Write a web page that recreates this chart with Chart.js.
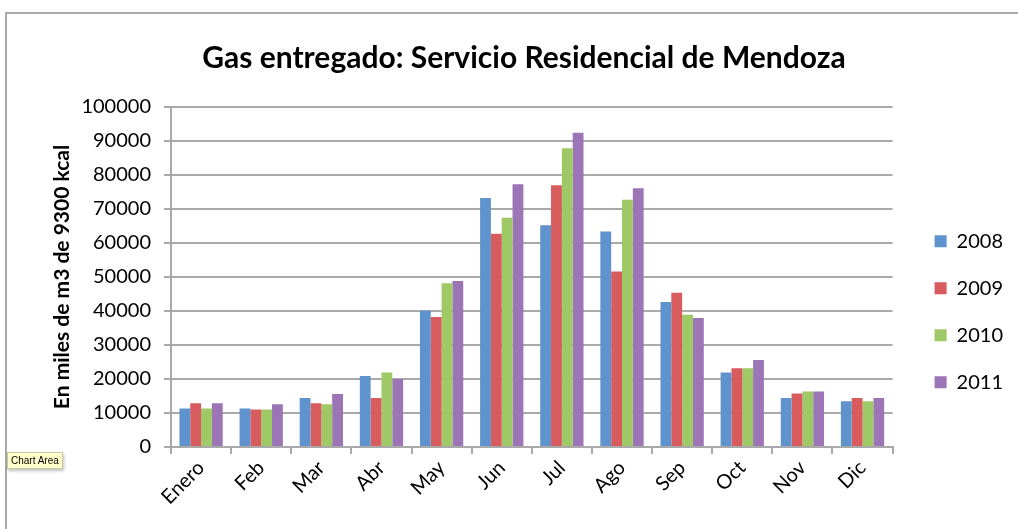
<!DOCTYPE html>
<html>
<head>
<meta charset="utf-8">
<script src="https://cdn.jsdelivr.net/npm/chart.js@4/dist/chart.umd.min.js"></script>
<style>
    html, body { margin: 0; padding: 0; background: #fff; }
    #wrap { position: relative; width: 1018px; height: 529px; overflow: hidden; }
    #frame { position: absolute; left: 5px; top: 12px; right: -2px; bottom: -2px; border-top: 2px solid #a9a9a9; border-left: 2px solid #a9a9a9; }
    #tip { position: absolute; left: 7px; top: 452px; padding: 2px 3px; background: #ffffcc; border: 1px solid #c8c8a0; box-shadow: 1px 2px 3px rgba(0,0,0,0.25); font: 10px "Liberation Sans Narrow", "Liberation Sans", sans-serif; color: #000; }
</style>
</head>
<body>
<div id="wrap">
    <canvas id="gasChart" width="1018" height="529"></canvas>
    <div id="frame"></div>
    <div id="tip">Chart Area</div>
</div>
<script>
const months = ['Enero', 'Feb', 'Mar', 'Abr', 'May', 'Jun', 'Jul', 'Ago', 'Sep', 'Oct', 'Nov', 'Dic'];
const years = ['2008', '2009', '2010', '2011'];
const gas2008 = [11300, 11300, 14400, 20900, 40100, 73250, 65200, 63350, 42650, 21900, 14400, 13450];
const gas2009 = [12850, 11000, 12850, 14400, 38250, 62750, 77000, 51600, 45400, 23150, 15700, 14400];
const gas2010 = [11300, 11000, 12550, 21900, 48150, 67450, 87850, 72750, 38900, 23150, 16300, 13450];
const gas2011 = [12850, 12550, 15600, 20000, 48850, 77250, 92450, 76100, 37950, 25600, 16300, 14400];
const yTicks = [0, 10000, 20000, 30000, 40000, 50000, 60000, 70000, 80000, 90000, 100000];

const colors = ['#5f93cd', '#d85b5d', '#9fc866', '#9b75b6'];
const series = [gas2008, gas2009, gas2010, gas2011];
const fontFamily = 'Lato, "Open Sans", sans-serif';

// nudge the legend to the right, like the original sheet
const legendShift = {
    id: 'legendShift',
    afterLayout: function (chart) {
        chart.legend.left += 15;
        chart.legend.right += 15;
    }
};

const ctx = document.getElementById('gasChart').getContext('2d');

window.gasChart = new Chart(ctx, {
    type: 'bar',
    data: {
        labels: months,
        datasets: years.map((year, i) => ({
            label: year,
            data: series[i],
            backgroundColor: colors[i],
            borderWidth: 0,
            categoryPercentage: 0.72,
            barPercentage: 1.0
        }))
    },
    plugins: [legendShift],
    options: {
        responsive: false,
        animation: false,
        layout: {
            padding: { left: 50, right: 20, top: 0, bottom: 0 }
        },
        scales: {
            x: {
                offset: true,
                grid: {
                    offset: true,
                    drawOnChartArea: false,
                    drawTicks: true,
                    tickLength: 7,
                    color: '#a9a9a9',
                    lineWidth: 2
                },
                border: { color: '#a9a9a9', width: 2 },
                ticks: {
                    color: '#000',
                    font: { family: fontFamily, size: 20 },
                    minRotation: 45,
                    maxRotation: 45,
                    autoSkip: false,
                    padding: 2
                },
                afterFit: function (scale) { scale.height = 82; }
            },
            y: {
                min: 0,
                max: 100000,
                afterBuildTicks: function (scale) {
                    scale.ticks = yTicks.map(v => ({ value: v }));
                },
                grid: {
                    color: '#a9a9a9',
                    lineWidth: 2,
                    tickLength: 7
                },
                border: { color: '#a9a9a9', width: 2 },
                ticks: {
                    color: '#000',
                    font: { family: fontFamily, size: 20 },
                    padding: 13,
                    callback: function (value) { return String(value); }
                },
                title: {
                    display: true,
                    text: 'En miles de m3 de 9300 kcal',
                    color: '#000',
                    font: { family: fontFamily, size: 21, weight: 'bold' },
                    padding: 0
                },
                afterFit: function (scale) { scale.width = 121; }
            }
        },
        plugins: {
            title: {
                display: true,
                text: 'Gas entregado: Servicio Residencial de Mendoza',
                color: '#000',
                font: { family: fontFamily, size: 30, weight: 'bold' },
                padding: { top: 40, bottom: 31 }
            },
            legend: {
                display: true,
                position: 'right',
                title: {
                    display: true,
                    text: ' ',
                    padding: 40
                },
                labels: {
                    color: '#000',
                    font: { family: fontFamily, size: 20 },
                    boxWidth: 12,
                    boxHeight: 12,
                    padding: 27
                },
                onClick: function (e) {
                    e.stopPropagation();
                }
            },
            tooltip: { enabled: false }
        }
    }
});
</script>
</body>
</html>
